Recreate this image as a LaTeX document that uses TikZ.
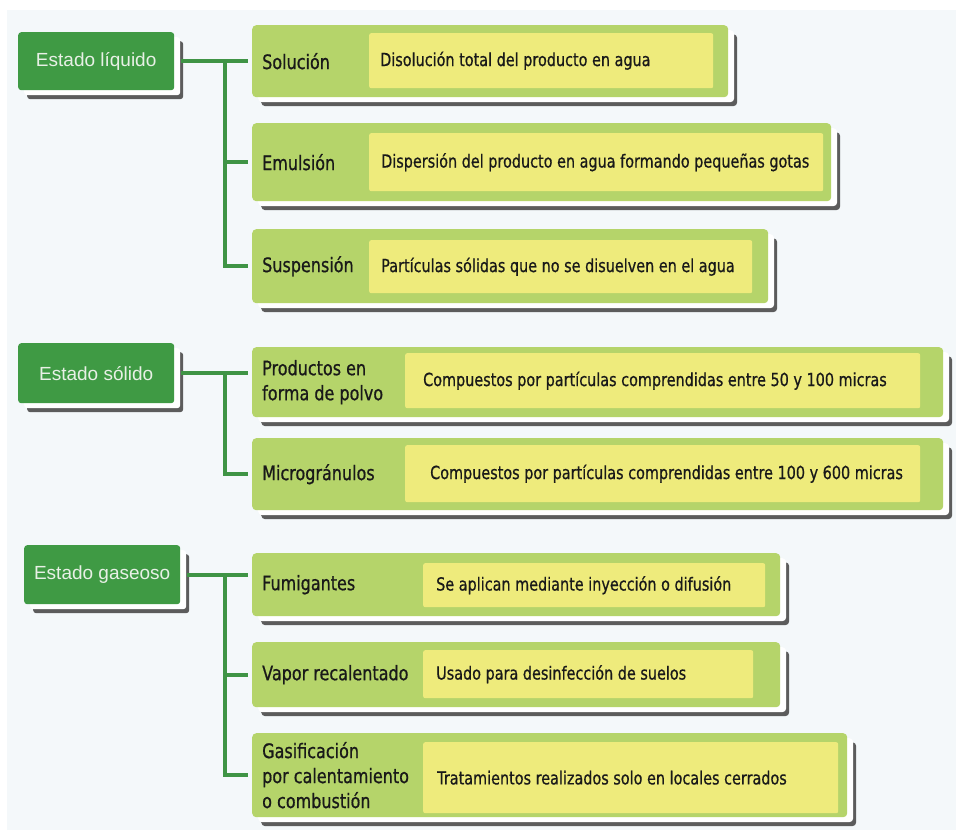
\documentclass[tikz,border=0pt]{standalone}
\usepackage{fontspec}
\setmainfont{Liberation Sans}
\newfontfamily\itemfont[FakeStretch=0.8,FakeBold=0.7]{DejaVu Sans}
\usetikzlibrary{shadows}

\definecolor{bgblue}{HTML}{F4F8FA}
\definecolor{stategreen}{HTML}{3F9A44}
\definecolor{leafgreen}{HTML}{B5D46A}
\definecolor{leafyellow}{HTML}{EEEB7C}
\definecolor{linkgreen}{HTML}{3F9445}
\definecolor{shadowgrey}{HTML}{5C5C5C}
\definecolor{statetext}{HTML}{E8F0E6}

\tikzset{
  card/.style={
    general shadow={fill=shadowgrey, shadow xshift=9pt, shadow yshift=-9pt},
    general shadow={fill=white, shadow xshift=6pt, shadow yshift=-5pt}},
  statebox/.style={card, fill=stategreen, rounded corners=3pt, anchor=north west,
    minimum width=156pt, text=statetext, font=\fontsize{19}{22}\selectfont, inner sep=0pt},
  leafbox/.style={card, fill=leafgreen, rounded corners=4pt, anchor=north west, inner sep=0pt},
  descbox/.style={fill=leafyellow, rounded corners=2pt, anchor=north west, inner sep=0pt},
  leaflabel/.style={anchor=west, inner sep=0pt, align=left, text=black!90,
    font=\itemfont\fontsize{20}{25}\selectfont},
  desctext/.style={anchor=west, inner sep=0pt, text=black!90,
    font=\itemfont\fontsize{18}{22}\selectfont},
  link/.style={draw=linkgreen, line width=4pt}
}

\begin{document}
\begin{tikzpicture}[x=1pt,y=-1pt]
  \useasboundingbox (0,0) rectangle (956,830);
  \fill[white] (0,0) rectangle (956,830);
  \fill[bgblue] (7,10) rectangle (956,830);

  % estados
  \node[statebox, minimum height=58pt] (liq) at (18,32) {Estado líquido};
  \node[statebox, minimum height=60pt] (soli) at (18,343) {Estado sólido};
  \node[statebox, minimum height=59pt] (gase) at (24,545) {Estado gaseoso};

  % estado liquido
  \node[leafbox, minimum width=476pt, minimum height=72pt] (solu) at (252,25) {};
  \node[descbox, minimum width=344pt, minimum height=55pt] (soluin) at (369,33) {};
  \node[leaflabel] (solulab) at ([xshift=10pt]solu.west) {Solución};
  \node[desctext] (soludesc) at ([xshift=11pt]soluin.west) {Disolución total del producto en agua};

  \node[leafbox, minimum width=579pt, minimum height=78pt] (emul) at (252,123) {};
  \node[descbox, minimum width=454pt, minimum height=58pt] (emulin) at (369,133) {};
  \node[leaflabel] (emullab) at ([xshift=10pt]emul.west) {Emulsión};
  \node[desctext] (emuldesc) at ([xshift=12pt]emulin.west) {Dispersión del producto en agua formando pequeñas gotas};

  \node[leafbox, minimum width=516pt, minimum height=74pt] (susp) at (252,229) {};
  \node[descbox, minimum width=383pt, minimum height=53pt] (suspin) at (369,240) {};
  \node[leaflabel] (susplab) at ([xshift=10pt]susp.west) {Suspensión};
  \node[desctext] (suspdesc) at ([xshift=12pt]suspin.west) {Partículas sólidas que no se disuelven en el agua};

  % estado solido
  \node[leafbox, minimum width=691pt, minimum height=70pt] (prod) at (252,347) {};
  \node[descbox, minimum width=515pt, minimum height=55pt] (prodin) at (405,353) {};
  \node[leaflabel] (prodlab) at ([xshift=10pt]prod.west) {Productos en\\forma de polvo};
  \node[desctext] (proddesc) at ([xshift=18pt]prodin.west) {Compuestos por partículas comprendidas entre 50 y 100 micras};

  \node[leafbox, minimum width=691pt, minimum height=72pt] (micr) at (252,438) {};
  \node[descbox, minimum width=515pt, minimum height=57pt] (micrin) at (405,445) {};
  \node[leaflabel] (micrlab) at ([xshift=10pt]micr.west) {Microgránulos};
  \node[desctext] (micrdesc) at ([xshift=25pt]micrin.west) {Compuestos por partículas comprendidas entre 100 y 600 micras};

  % estado gaseoso
  \node[leafbox, minimum width=528pt, minimum height=63pt] (fumi) at (252,553) {};
  \node[descbox, minimum width=342pt, minimum height=44pt] (fumiin) at (423,563) {};
  \node[leaflabel] (fumilab) at ([xshift=10pt]fumi.west) {Fumigantes};
  \node[desctext] (fumidesc) at ([xshift=13pt]fumiin.west) {Se aplican mediante inyección o difusión};

  \node[leafbox, minimum width=528pt, minimum height=65pt] (vapo) at (252,642) {};
  \node[descbox, minimum width=330pt, minimum height=48pt] (vapoin) at (423,650) {};
  \node[leaflabel] (vapolab) at ([xshift=10pt]vapo.west) {Vapor recalentado};
  \node[desctext] (vapodesc) at ([xshift=13pt]vapoin.west) {Usado para desinfección de suelos};

  \node[leafbox, minimum width=595pt, minimum height=84pt] (gasi) at (252,733) {};
  \node[descbox, minimum width=415pt, minimum height=71pt] (gasiin) at (423,742) {};
  \node[leaflabel] (gasilab) at ([xshift=10pt]gasi.west) {Gasificación\\por calentamiento\\o combustión};
  \node[desctext] (gasidesc) at ([xshift=14pt]gasiin.west) {Tratamientos realizados solo en locales cerrados};

  % conectores
  \coordinate (bar) at (225,0);
  \draw[link, shorten <=7pt, shorten >=4pt] (liq.east) -- (liq.east -| solu.west);
  \draw[link, shorten >=4pt] (liq.east -| bar) |- (emul.west);
  \draw[link, shorten >=4pt] (liq.east -| bar) |- (susp.west);

  \draw[link, shorten <=7pt, shorten >=4pt] (soli.east) -- (soli.east -| prod.west);
  \draw[link, shorten >=4pt] (soli.east -| bar) |- (micr.west);

  \draw[link, shorten <=7pt, shorten >=4pt] (gase.east) -- (gase.east -| fumi.west);
  \draw[link, shorten >=4pt] (gase.east -| bar) |- (vapo.west);
  \draw[link, shorten >=4pt] (gase.east -| bar) |- (gasi.west);
\end{tikzpicture}
\end{document}
